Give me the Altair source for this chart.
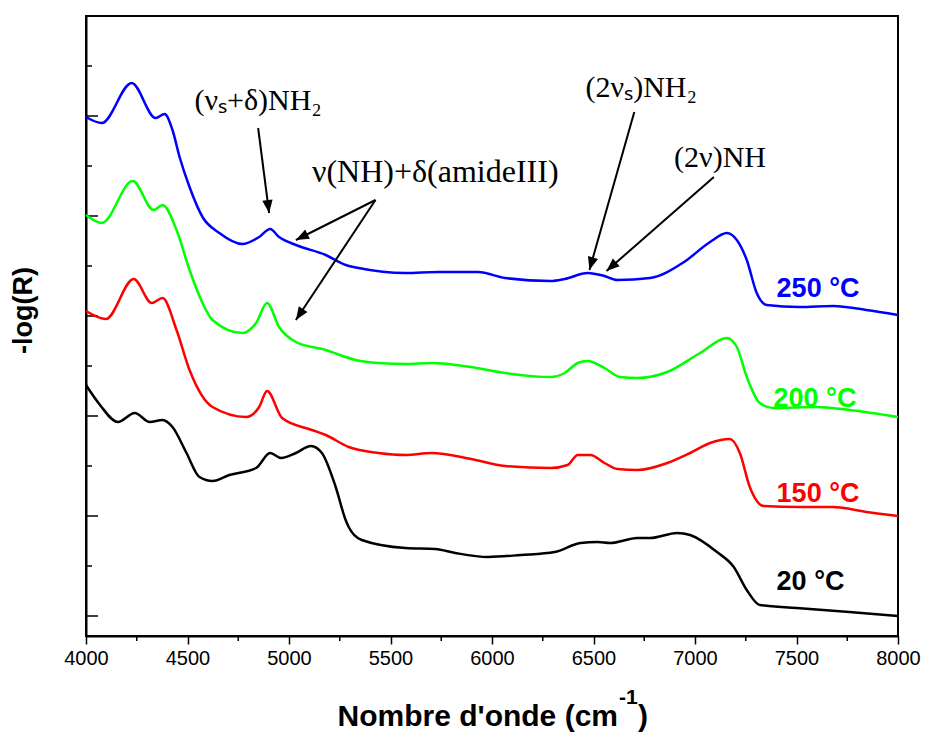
import math
import altair as alt
import pandas as pd

# ---------------- data ----------------
# wavenumber (cm-1) / -log(R) (arbitrary units, curves offset)
wn_20 = [4000, 4069, 4157, 4240, 4314, 4377, 4426, 4495, 4559, 4623, 4706, 4838, 4907, 4961, 5034, 5108, 5162,
         5230, 5279, 5294, 5358, 5574, 5721, 5819, 5980, 6142, 6309, 6436, 6520, 6583, 6716, 6779, 6912, 6976,
         7108, 7191, 7255, 7319, 7500, 7760, 8000]
v_20 = [2.31, 2.11, 1.94, 2.03, 1.94, 1.96, 1.89, 1.63, 1.39, 1.35, 1.41, 1.48, 1.63, 1.58, 1.63, 1.70, 1.63,
        1.29, 0.96, 0.89, 0.76, 0.68, 0.67, 0.63, 0.59, 0.61, 0.64, 0.73, 0.74, 0.73, 0.78, 0.78, 0.83, 0.81,
        0.64, 0.49, 0.26, 0.11, 0.08, 0.04, 0.00]

wn_150 = [4000, 4098, 4235, 4324, 4377, 4446, 4510, 4623, 4789, 4853, 4892, 4966, 5113, 5181, 5294, 5441, 5574,
          5701, 5897, 6064, 6289, 6373, 6422, 6485, 6554, 6618, 6716, 6863, 6976, 7074, 7172, 7221, 7270, 7338,
          7515, 7681, 7843, 8000]
v_150 = [3.05, 2.97, 3.37, 3.13, 3.18, 2.86, 2.46, 2.09, 1.99, 2.09, 2.25, 1.98, 1.86, 1.81, 1.69, 1.63, 1.61,
         1.63, 1.57, 1.50, 1.48, 1.51, 1.61, 1.61, 1.53, 1.47, 1.46, 1.53, 1.63, 1.73, 1.77, 1.63, 1.29, 1.10,
         1.09, 1.09, 1.04, 1.00]

wn_200 = [4000, 4078, 4230, 4333, 4377, 4446, 4510, 4574, 4623, 4770, 4838, 4892, 4951, 5034, 5181, 5328, 5441,
          5574, 5701, 5897, 6064, 6289, 6358, 6422, 6471, 6554, 6632, 6716, 6863, 7025, 7157, 7206, 7255, 7319,
          7387, 7598, 7760, 8000]
v_200 = [4.01, 3.93, 4.35, 4.06, 4.11, 3.86, 3.46, 3.13, 2.96, 2.83, 2.93, 3.13, 2.89, 2.74, 2.66, 2.56, 2.53,
         2.52, 2.53, 2.49, 2.43, 2.39, 2.43, 2.53, 2.55, 2.48, 2.39, 2.38, 2.44, 2.63, 2.78, 2.69, 2.39, 2.13,
         2.08, 2.09, 2.06, 1.99]

wn_250 = [4000, 4078, 4225, 4343, 4387, 4426, 4461, 4510, 4574, 4657, 4770, 4853, 4907, 4951, 5034, 5181, 5279,
          5343, 5574, 5735, 5931, 6064, 6289, 6358, 6471, 6554, 6618, 6779, 6946, 7074, 7157, 7206, 7255, 7304,
          7353, 7515, 7681, 7843, 8000]
v_250 = [4.99, 4.93, 5.33, 4.98, 5.02, 4.86, 4.59, 4.29, 3.99, 3.83, 3.72, 3.79, 3.87, 3.79, 3.71, 3.61, 3.51,
         3.48, 3.43, 3.44, 3.44, 3.38, 3.35, 3.37, 3.43, 3.40, 3.36, 3.38, 3.54, 3.74, 3.83, 3.76, 3.56, 3.23,
         3.11, 3.09, 3.10, 3.06, 3.01]

series_names = ["20 °C", "150 °C", "200 °C", "250 °C"]
series_colors = ["#000000", "#ff0000", "#00ff00", "#0000ff"]
label_wn = [7402, 7402, 7387, 7402]
label_v = [0.26, 1.14, 2.09, 3.19]

ann_text = ["(\u03bd\u209b+\u03b4)NH\u2082", "\u03bd(NH)+\u03b4(amideIII)", "(2\u03bd\u209b)NH\u2082", "(2\u03bd)NH"]
ann_wn = [4534, 5113, 6461, 6897]
ann_v = [5.06, 4.34, 5.19, 4.49]
ann_size = [30, 32, 30, 30]

arrow_start_wn = [4848, 5426, 5426, 6701, 7093]
arrow_start_v = [4.88, 4.16, 4.16, 5.04, 4.39]
arrow_tip_wn = [4902, 5034, 5034, 6480, 6564]
arrow_tip_v = [4.03, 3.76, 2.96, 3.46, 3.45]

x_major = [4000, 4500, 5000, 5500, 6000, 6500, 7000, 7500, 8000]
x_minor = [4250, 4750, 5250, 5750, 6250, 6750, 7250, 7750]
y_major = [0, 1, 2, 3, 4, 5]
y_minor = [0.5, 1.5, 2.5, 3.5, 4.5, 5.5]

# ---------------- chart ----------------
W, H = 812, 620
XMIN, XMAX = 4000, 8000
YMIN, YMAX = -0.2, 6.0
SANS = "Liberation Sans"
SERIF = "Liberation Serif"

rows = []
for name, xs, ys in zip(series_names, [wn_20, wn_150, wn_200, wn_250], [v_20, v_150, v_200, v_250]):
    rows += [{"wn": a, "v": b, "serie": name} for a, b in zip(xs, ys)]
curves = pd.DataFrame(rows)

labels = pd.DataFrame({"wn": label_wn, "v": label_v, "serie": series_names})
ann = pd.DataFrame({"wn": ann_wn, "v": ann_v, "txt": ann_text})


def head_angle(x0, y0, x1, y1):
    dx = (x1 - x0) * W / (XMAX - XMIN)
    dy = -(y1 - y0) * H / (YMAX - YMIN)
    return math.degrees(math.atan2(dx, -dy)) % 360


arrows = pd.DataFrame({
    "wn": arrow_start_wn, "v": arrow_start_v,
    "wn2": arrow_tip_wn, "v2": arrow_tip_v,
})
heads = pd.DataFrame({
    "wn": arrow_tip_wn, "v": arrow_tip_v,
    "ang": [head_angle(a, b, c, d) for a, b, c, d in zip(arrow_start_wn, arrow_start_v, arrow_tip_wn, arrow_tip_v)],
})

xscale = alt.Scale(domain=[XMIN, XMAX], nice=False, zero=False)
yscale = alt.Scale(domain=[YMIN, YMAX], nice=False, zero=False)
xaxis = alt.Axis(values=x_major, format="d", tickSize=8, tickWidth=1.5, tickColor="black",
                 domainColor="black", domainWidth=2, labelFont=SANS, labelFontSize=20, labelColor="black",
                 labelPadding=4, labelFlush=False, labelOverlap=False, grid=False, title=None)
yaxis = alt.Axis(labels=False, ticks=False, domainColor="black", domainWidth=2, grid=False,
                 title="-log(R)", titleFont=SANS, titleFontSize=27, titleFontWeight="bold", titleColor="black",
                 titleX=-63, titleY=294, titleAngle=270, titleBaseline="middle", titleAlign="center")
X = alt.X("wn:Q", scale=xscale, axis=xaxis)
Y = alt.Y("v:Q", scale=yscale, axis=yaxis)
color = alt.Color("serie:N", scale=alt.Scale(domain=series_names, range=series_colors), legend=None)

lines = alt.Chart(curves).mark_line(strokeWidth=2.5, interpolate="monotone").encode(x=X, y=Y, color=color)

temp_labels = alt.Chart(labels).mark_text(align="left", baseline="alphabetic", font=SANS, fontSize=27,
                                          fontWeight="bold").encode(x=X, y=Y, text="serie:N", color=color)

ann_layers = []
for i in range(len(ann_text)):
    ann_layers.append(
        alt.Chart(ann.iloc[[i]]).mark_text(align="left", baseline="alphabetic", font=SERIF,
                                           fontSize=ann_size[i], color="black").encode(x=X, y=Y, text="txt:N")
    )

arrow_lines = alt.Chart(arrows).mark_rule(strokeWidth=2, color="black").encode(
    x=X, y=Y, x2="wn2:Q", y2="v2:Q")
arrow_heads = alt.Chart(heads).mark_point(shape="M0,0 L-0.8,2 L0.8,2 Z", filled=True, size=169, color="black",
                                          opacity=1, strokeWidth=0).encode(
    x=X, y=Y, angle=alt.Angle("ang:Q", scale=None))

ymaj = alt.Chart(pd.DataFrame({"v": y_major})).mark_rule(strokeWidth=1.5, color="black").encode(
    y=Y, x=alt.value(0), x2=alt.value(12))
ymin = alt.Chart(pd.DataFrame({"v": y_minor})).mark_rule(strokeWidth=1.5, color="black").encode(
    y=Y, x=alt.value(0), x2=alt.value(6))
xmin = alt.Chart(pd.DataFrame({"wn": x_minor})).mark_rule(strokeWidth=1.5, color="black").encode(
    x=X, y=alt.value(H), y2=alt.value(H + 5))

one = alt.Data(values=[{"k": 0}])
t_main = alt.Chart(one).mark_text(text="Nombre d'onde (cm", align="right", baseline="alphabetic", font=SANS,
                                  fontSize=30, fontWeight="bold", color="black").encode(
    x=alt.value(532), y=alt.value(710))
t_sup = alt.Chart(one).mark_text(text="-1", align="left", baseline="alphabetic", font=SANS,
                                 fontSize=21, fontWeight="bold", color="black").encode(
    x=alt.value(533), y=alt.value(688))
t_close = alt.Chart(one).mark_text(text=")", align="left", baseline="alphabetic", font=SANS,
                                   fontSize=30, fontWeight="bold", color="black").encode(
    x=alt.value(552), y=alt.value(710))

chart = alt.layer(
    ymaj, ymin, xmin, lines, temp_labels, *ann_layers, arrow_lines, arrow_heads, t_main, t_sup, t_close
).properties(
    width=W, height=H,
    padding={"left": 78, "top": 8, "right": 24, "bottom": 102},
    autosize=alt.AutoSizeParams(type="none"),
).configure_view(stroke="black", strokeWidth=2)

chart.save("out.html", embed_options={"renderer": "svg", "actions": False})
